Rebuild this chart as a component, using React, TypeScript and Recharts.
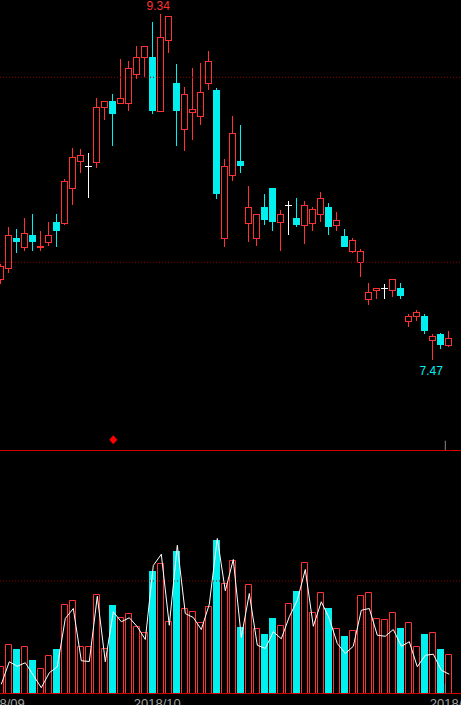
import React from 'react';
import { ComposedChart, Bar, Line, Scatter, XAxis, YAxis, ReferenceLine } from 'recharts';

// daily candles, oldest first
const opens = [7.91, 7.97, 8.13, 8.08, 8.15, 8.08, 8.11, 8.22, 8.21, 8.40, 8.55, 8.52, 8.54, 8.84, 8.87, 8.86, 8.86, 9.02, 9.11, 9.11, 8.82, 9.20, 8.97, 8.72, 8.81, 8.79, 8.97, 8.93, 8.13, 8.47, 8.55, 8.21, 8.13, 8.30, 8.40, 8.22, 8.31, 8.24, 8.20, 8.21, 8.26, 8.30, 8.20, 8.14, 8.06, 8.00, 7.80, 7.85, 7.86, 7.85, 7.86, 7.68, 7.71, 7.71, 7.58, 7.61, 7.55];
const highs = [7.99, 8.19, 8.18, 8.24, 8.26, 8.17, 8.22, 8.26, 8.45, 8.62, 8.61, 8.59, 8.89, 8.87, 8.91, 9.10, 9.09, 9.17, 9.17, 9.30, 9.34, 9.33, 9.07, 8.95, 9.05, 9.08, 9.14, 8.94, 8.56, 8.79, 8.74, 8.41, 8.26, 8.37, 8.40, 8.28, 8.33, 8.35, 8.33, 8.30, 8.38, 8.32, 8.27, 8.18, 8.13, 8.07, 7.89, 7.86, 7.88, 7.91, 7.89, 7.72, 7.74, 7.72, 7.61, 7.62, 7.63];
const lows = [7.88, 7.94, 8.05, 8.06, 8.06, 8.06, 8.09, 8.08, 8.20, 8.31, 8.48, 8.35, 8.51, 8.77, 8.63, 8.86, 8.82, 8.99, 9.00, 8.80, 8.82, 9.13, 8.63, 8.60, 8.66, 8.74, 8.93, 8.34, 8.08, 8.44, 8.48, 8.11, 8.09, 8.20, 8.17, 8.06, 8.15, 8.19, 8.10, 8.17, 8.22, 8.15, 8.17, 8.08, 8.05, 7.92, 7.77, 7.80, 7.80, 7.81, 7.80, 7.65, 7.68, 7.61, 7.47, 7.53, 7.54];
const closes = [7.98, 8.15, 8.11, 8.16, 8.11, 8.09, 8.15, 8.17, 8.44, 8.57, 8.58, 8.52, 8.84, 8.87, 8.80, 8.89, 9.05, 9.11, 9.17, 8.82, 9.22, 9.33, 8.82, 8.91, 8.83, 8.92, 9.09, 8.37, 8.52, 8.70, 8.52, 8.30, 8.26, 8.23, 8.22, 8.26, 8.31, 8.20, 8.31, 8.29, 8.35, 8.19, 8.23, 8.08, 8.12, 8.06, 7.84, 7.86, 7.86, 7.91, 7.82, 7.71, 7.73, 7.63, 7.60, 7.55, 7.59];

// volume (hands) and its moving line
const volumes = [10900, 20000, 17700, 19200, 13300, 10100, 15600, 17700, 35700, 37600, 18900, 18900, 39700, 18100, 35300, 30800, 32100, 26900, 24500, 48900, 52000, 28900, 57100, 34400, 32900, 28500, 35200, 61300, 44100, 53300, 26500, 43700, 26000, 23700, 30100, 27600, 36100, 40900, 52500, 32500, 40500, 34100, 26000, 22900, 25600, 39300, 40800, 30400, 30000, 32500, 26100, 28500, 18900, 23700, 24500, 17900, 16000];
const volumeMa = [3700, 12700, 10900, 12300, 7300, 2300, 8300, 10700, 30000, 34000, 13100, 12800, 38900, 12700, 32700, 28700, 30300, 26700, 21600, 51200, 55700, 27300, 59300, 32000, 30400, 25600, 35700, 62000, 41100, 53600, 22400, 40000, 19300, 18000, 24700, 21900, 30700, 37300, 49600, 26900, 36700, 30000, 20000, 16000, 18900, 33300, 34000, 23300, 22900, 25600, 18900, 20700, 10700, 15300, 15700, 9300, 7700];

const monthTicks = [-2.5, 17, 54];
const monthLabels = ['2018/09', '2018/10', '2018/11'];

const signalDays = [14];
const signalLevel = 7.04;

const RED = '#ff3232';
const CYAN = '#00f0f0';
const GRID = '#8b0000';
const FONT = '"Liberation Sans", Arial, sans-serif';

const X_DOMAIN = [-0.1625, 57.4625];
const PRICE_DOMAIN = [6.985, 9.418];
const VOL_DOMAIN = [0, 97400];

const candles = opens.map((open, i) => ({
  i,
  open,
  high: highs[i],
  low: lows[i],
  close: closes[i],
  vol: volumes[i],
  ma: volumeMa[i],
}));

const hiIdx = highs.indexOf(Math.max(...highs));
const loIdx = lows.indexOf(Math.min(...lows));
const extremes = [
  { i: hiIdx, v: highs[hiIdx], kind: 'high' },
  { i: loIdx, v: lows[loIdx], kind: 'low' },
];
const signals = signalDays.map((i) => ({ i, v: signalLevel }));

const snap = (v: number) => Math.round(v) + 0.5;

const CandleShape = (props: any) => {
  const { x, y, width, height, payload } = props;
  if (!payload) return null;
  const { open, close, high, low } = payload;
  const top = Math.min(y, y + height);
  const h = Math.abs(height);
  const span = high - low;
  const toY = (v: number) => (span > 0 ? top + ((high - v) / span) * h : top);
  const cx = Math.floor(x + width / 2) + 0.5;
  const yH = Math.round(toY(high));
  const yL = Math.round(toY(low));
  const yO = toY(open);
  const yC = toY(close);
  if (close > open) {
    const bt = snap(yC);
    const bb = Math.max(snap(yO), bt + 1);
    return (
      <g>
        <line x1={cx} x2={cx} y1={yH} y2={bt} stroke={RED} />
        <line x1={cx} x2={cx} y1={bb} y2={yL} stroke={RED} />
        <rect x={cx - 3} y={bt} width={6} height={bb - bt} fill="#000" stroke={RED} />
      </g>
    );
  }
  if (close < open) {
    const bt = Math.round(yO);
    const bb = Math.max(Math.round(yC), bt + 1);
    return (
      <g>
        <line x1={cx} x2={cx} y1={yH} y2={yL} stroke={CYAN} />
        <rect x={cx - 3.5} y={bt} width={7} height={bb - bt} fill={CYAN} />
      </g>
    );
  }
  const yy = snap(yO);
  return (
    <g>
      <line x1={cx} x2={cx} y1={yH} y2={yL} stroke="#fff" />
      <line x1={cx - 3.5} x2={cx + 3.5} y1={yy} y2={yy} stroke="#fff" />
    </g>
  );
};

const VolumeShape = (props: any) => {
  const { x, y, width, height, payload } = props;
  if (!payload) return null;
  const cx = Math.floor(x + width / 2) + 0.5;
  const base = Math.round(y + height);
  const top = snap(y);
  if (payload.close >= payload.open) {
    return (
      <path
        d={`M${cx - 3},${base} V${top} H${cx + 3} V${base}`}
        fill="none"
        stroke={RED}
      />
    );
  }
  return <rect x={cx - 3.5} y={Math.round(y)} width={7} height={base - Math.round(y)} fill={CYAN} />;
};

const ExtremeLabel = (props: any) => {
  const { cx, cy, payload } = props;
  if (!payload) return null;
  const isHigh = payload.kind === 'high';
  return (
    <text
      x={isHigh ? cx - 3 : cx - 2}
      y={isHigh ? cy - 4.5 : cy + 14.5}
      textAnchor="middle"
      fontSize={12}
      fontFamily={FONT}
      fill={isHigh ? RED : CYAN}
    >
      {payload.v.toFixed(2)}
    </text>
  );
};

const Diamond = (props: any) => {
  const { cx, cy } = props;
  return <polygon points={`${cx},${cy - 4.5} ${cx + 4},${cy} ${cx},${cy + 4.5} ${cx - 4},${cy}`} fill="#ff0000" />;
};

const MonthTick = (props: any) => {
  const { x, y, payload } = props;
  const idx = monthTicks.indexOf(payload.value);
  return (
    <text x={x - 3.5} y={y + 14} textAnchor="start" fontSize={13} fontFamily={FONT} fill="#a0a0a0">
      {monthLabels[idx]}
    </text>
  );
};

export default function App() {
  return (
    <div style={{ position: 'relative', width: 461, height: 705, background: '#000', overflow: 'hidden' }}>
      <style>{'body{margin:0;background:#000;}'}</style>
      <div style={{ position: 'absolute', left: 0, top: 0 }}>
        <ComposedChart width={461} height={450} data={candles} margin={{ top: 0, right: 0, bottom: 0, left: 0 }}>
          <XAxis dataKey="i" type="number" domain={X_DOMAIN} allowDataOverflow hide />
          <YAxis type="number" domain={PRICE_DOMAIN} allowDataOverflow hide />
          <ReferenceLine y={9} stroke={GRID} strokeDasharray="1 2" />
          <ReferenceLine y={8} stroke={GRID} strokeDasharray="1 2" />
          <ReferenceLine segment={[{ x: 55.5, y: 7.035 }, { x: 55.5, y: 6.985 }]} stroke="#888" />
          <Bar
            dataKey={(d: any) => [d.low, d.high]}
            barSize={7}
            shape={CandleShape}
            isAnimationActive={false}
          />
          <Scatter data={extremes} dataKey="v" shape={ExtremeLabel} isAnimationActive={false} />
          <Scatter data={signals} dataKey="v" shape={Diamond} isAnimationActive={false} />
        </ComposedChart>
      </div>
      <div style={{ position: 'absolute', left: 0, top: 450, width: 461, height: 1, background: '#d40000' }} />
      <div style={{ position: 'absolute', left: 0, top: 450 }}>
        <ComposedChart width={461} height={255} data={candles} margin={{ top: 0, right: 0, bottom: 0, left: 0 }}>
          <XAxis
            dataKey="i"
            type="number"
            domain={X_DOMAIN}
            allowDataOverflow
            ticks={monthTicks}
            interval={0}
            height={11.5}
            tickLine={false}
            tickSize={0}
            tickMargin={0}
            axisLine={{ stroke: '#d40000' }}
            tick={MonthTick}
          />
          <YAxis type="number" domain={VOL_DOMAIN} allowDataOverflow hide />
          <ReferenceLine y={45000} stroke={GRID} strokeDasharray="1 2" />
          <ReferenceLine segment={[{ x: 55.5, y: 0 }, { x: 55.5, y: 4000 }]} stroke="#888" />
          <Bar dataKey="vol" barSize={7} shape={VolumeShape} isAnimationActive={false} />
          <Line
            dataKey="ma"
            type="linear"
            stroke="#ffffff"
            strokeWidth={1}
            dot={false}
            activeDot={false}
            isAnimationActive={false}
          />
        </ComposedChart>
      </div>
    </div>
  );
}
